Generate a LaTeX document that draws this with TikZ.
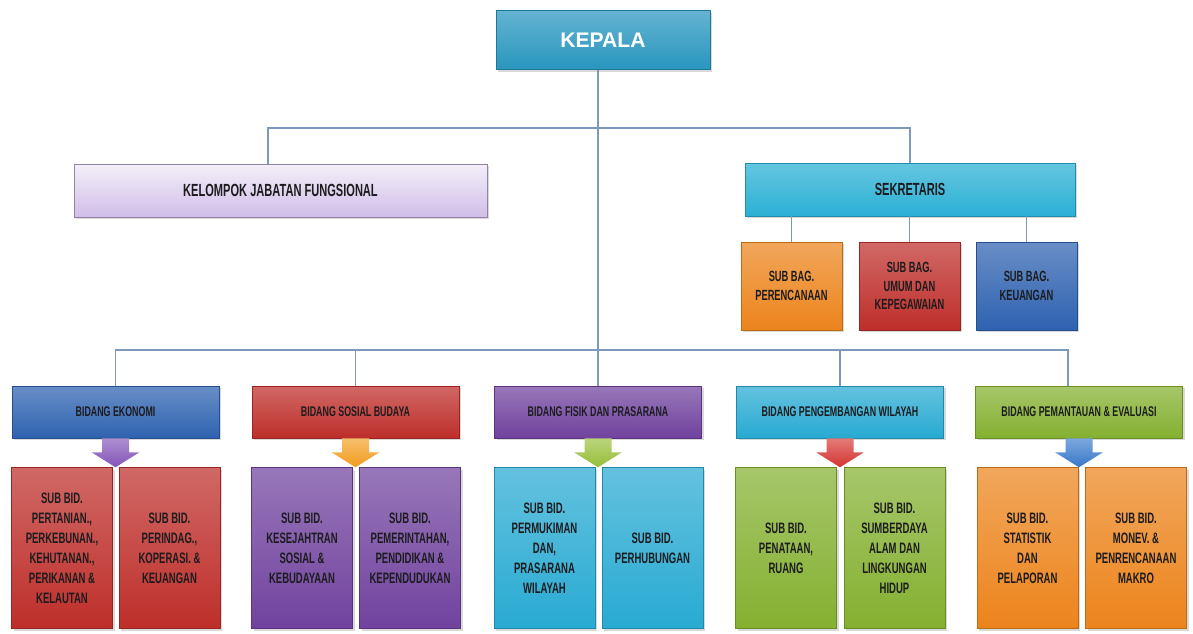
\documentclass[tikz,border=0pt]{standalone}
\usepackage{fontspec}
\setmainfont{Liberation Sans}
\newfontfamily\orgfont[FakeStretch=0.63]{Liberation Sans}
\usepackage{tikz}
\usetikzlibrary{shadows}
\definecolor{linkblue}{RGB}{125,151,189}
\definecolor{textdark}{RGB}{28,28,30}
\definecolor{headcyan}{RGB}{40,150,190}
\definecolor{lavender}{RGB}{208,190,232}
\definecolor{sekcyan}{RGB}{42,176,212}
\definecolor{boxorange}{RGB}{236,132,28}
\definecolor{boxred}{RGB}{190,46,42}
\definecolor{boxblue}{RGB}{46,98,176}
\definecolor{boxpurple}{RGB}{112,66,158}
\definecolor{boxcyan}{RGB}{40,170,210}
\definecolor{boxgreen}{RGB}{132,176,48}
\definecolor{arrpurple}{RGB}{130,84,184}
\definecolor{arrorange}{RGB}{242,156,30}
\definecolor{arrgreen}{RGB}{150,190,56}
\definecolor{arrred}{RGB}{212,52,48}
\definecolor{arrblue}{RGB}{56,120,202}

\begin{document}
\begin{tikzpicture}[
  x=0.02cm, y=-0.02cm,
  every node/.style={font=\orgfont\bfseries\fontsize{8.6}{11.4}\selectfont,
                     text=textdark, align=center, inner sep=2pt},
  box/.style={rectangle, draw=#1!80!black, line width=0.3pt,
              top color=#1!72!white, bottom color=#1,
              drop shadow={shadow xshift=1.2pt, shadow yshift=-1.2pt, opacity=0.3}},
  headbox/.style={box=headcyan, minimum width=4.28cm, minimum height=1.18cm},
  widebox/.style={box=#1, minimum height=1.06cm,
                  font=\orgfont\bfseries\fontsize{10}{12}\selectfont},
  bagbox/.style={box=#1, minimum width=2.02cm, minimum height=1.76cm,
                 font=\orgfont\bfseries\fontsize{8.4}{10.4}\selectfont},
  bidbox/.style={box=#1, minimum width=4.14cm, minimum height=1.04cm,
                 font=\orgfont\bfseries\fontsize{8}{10}\selectfont},
  subbox/.style={box=#1, minimum width=2.02cm, minimum height=3.22cm},
  link/.style={draw=linkblue, line width=1pt}
]
\useasboundingbox (0,0) rectangle (1193,633);

%--- Top level ---%
\node[headbox, text=white, font=\rmfamily\bfseries\fontsize{12}{14}\selectfont]
  (kepala) at (603,40) {KEPALA};
\node[widebox=lavender, minimum width=8.26cm, draw=lavender!70!black,
      top color=lavender!25!white, bottom color=lavender]
  (kelompok) at (280.5,190.5) {KELOMPOK JABATAN FUNGSIONAL};
\node[widebox=sekcyan, minimum width=6.6cm] (sekretaris) at (910,189.5) {SEKRETARIS};

%--- Sub bagian ---%
\node[bagbox=boxorange] (bag1) at (791.5,286) {SUB BAG.\\PERENCANAAN};
\node[bagbox=boxred]    (bag2) at (909.5,286) {SUB BAG.\\UMUM DAN\\KEPEGAWAIAN};
\node[bagbox=boxblue]   (bag3) at (1026.5,286) {SUB BAG.\\KEUANGAN};

%--- Bidang row ---%
\node[bidbox=boxblue]   (eko)    at (115.5,412) {BIDANG EKONOMI};
\node[bidbox=boxred]    (sosbud) at (355.5,412) {BIDANG SOSIAL BUDAYA};
\node[bidbox=boxpurple] (fisik)  at (598,412)   {BIDANG FISIK DAN PRASARANA};
\node[bidbox=boxcyan]   (pwil)   at (840,412)   {BIDANG PENGEMBANGAN WILAYAH};
\node[bidbox=boxgreen]  (monev)  at (1079,412)  {BIDANG PEMANTAUAN \& EVALUASI};

%--- Sub bidang ---%
\node[subbox=boxred] (eko1) at (62,548)
  {SUB BID.\\PERTANIAN.,\\PERKEBUNAN.,\\KEHUTANAN.,\\PERIKANAN \&\\KELAUTAN};
\node[subbox=boxred] (eko2) at (169.5,548) {SUB BID.\\PERINDAG.,\\KOPERASI. \&\\KEUANGAN};
\node[subbox=boxpurple] (sosbud1) at (302,548) {SUB BID.\\KESEJAHTRAN\\SOSIAL \&\\KEBUDAYAAN};
\node[subbox=boxpurple] (sosbud2) at (410,548)
  {SUB BID.\\PEMERINTAHAN,\\PENDIDIKAN \&\\KEPENDUDUKAN};
\node[subbox=boxcyan] (fisik1) at (544.5,548)
  {SUB BID.\\PERMUKIMAN\\DAN,\\PRASARANA\\WILAYAH};
\node[subbox=boxcyan] (fisik2) at (652.5,548) {SUB BID.\\PERHUBUNGAN};
\node[subbox=boxgreen] (pwil1) at (786,548) {SUB BID.\\PENATAAN,\\RUANG};
\node[subbox=boxgreen] (pwil2) at (894.5,548)
  {SUB BID.\\SUMBERDAYA\\ALAM DAN\\LINGKUNGAN\\HIDUP};
\node[subbox=boxorange] (monev1) at (1027.5,548) {SUB BID.\\STATISTIK\\DAN\\PELAPORAN};
\node[subbox=boxorange] (monev2) at (1136,548)
  {SUB BID.\\MONEV. \&\\PENRENCANAAN\\MAKRO};

%--- Connectors ---%
\coordinate (topbus) at (598,128);
\coordinate (midbus) at (598,350);
\draw[link] (kepala.south -| fisik.north) -- (fisik.north);
\draw[link] ([xshift=-0.25cm]kelompok.north) |- (topbus) -| (sekretaris.north);
\draw[link] (eko.north) |- (midbus) -| ([xshift=-0.22cm]monev.north);
\draw[link] (sosbud.north) -- (sosbud.north |- midbus);
\draw[link] (pwil.north) -- (pwil.north |- midbus);
\draw[link] (bag1.north) -- (bag1.north |- sekretaris.south);
\draw[link] (bag2.north) -- (bag2.north |- sekretaris.south);
\draw[link] (bag3.north) -- (bag3.north |- sekretaris.south);

%--- Down arrows ---%
\foreach \bid/\col in {eko/arrpurple, sosbud/arrorange, fisik/arrgreen,
                       pwil/arrred, monev/arrblue}
  \shade[top color=\col!65!white, bottom color=\col, shift={(\bid.south)}]
    (-13.5,0) -- (13.5,0) -- (13.5,14) -- (24,14) -- (0,29)
    -- (-24,14) -- (-13.5,14) -- cycle;

\end{tikzpicture}
\end{document}
